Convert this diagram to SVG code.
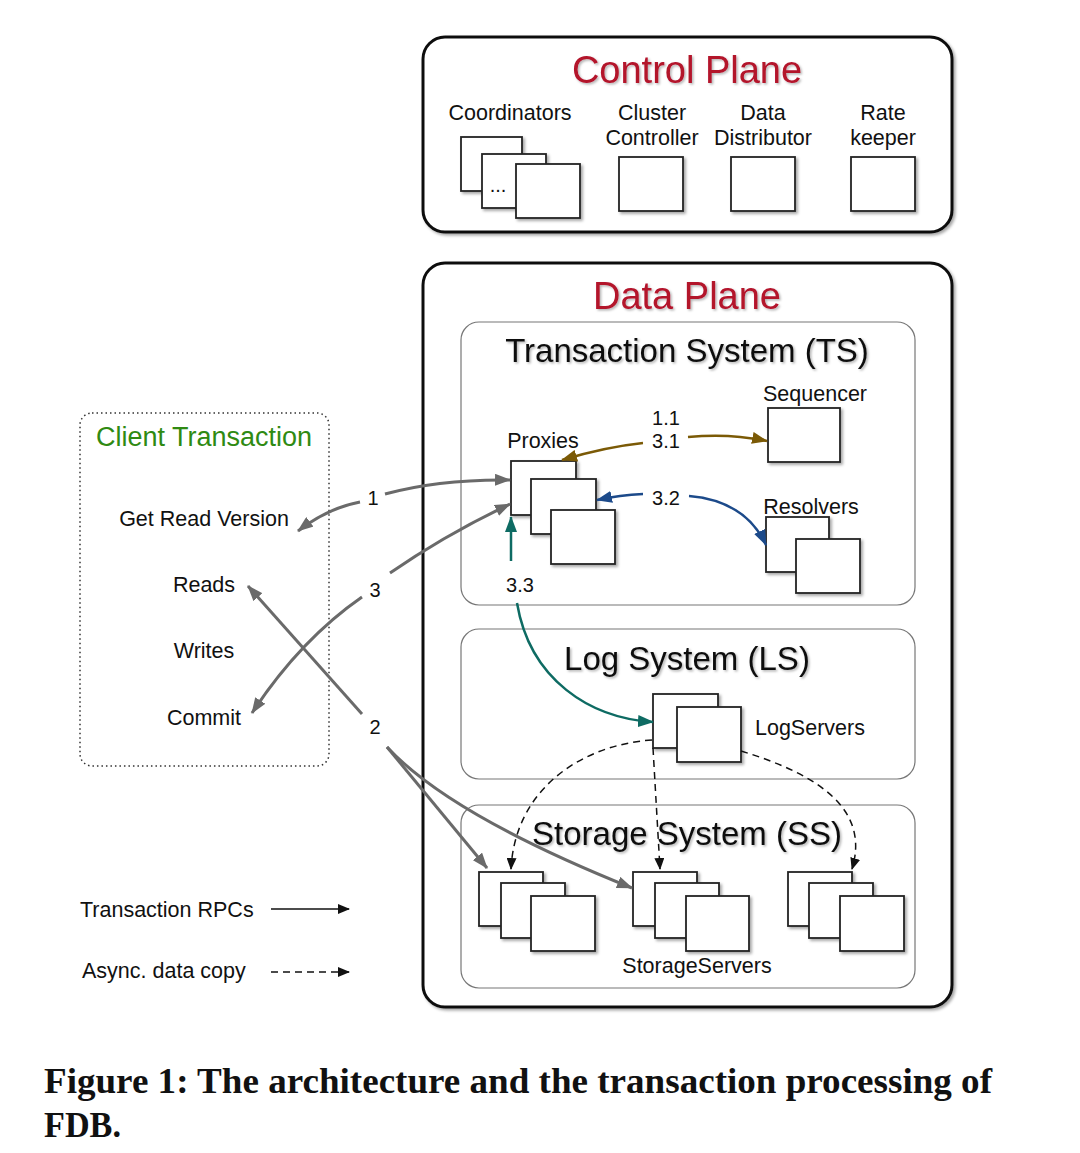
<svg xmlns="http://www.w3.org/2000/svg" width="1080" height="1153" viewBox="0 0 1080 1153">
<style>
.lbl{font-family:"Liberation Sans",Arial,sans-serif;font-size:21.5px;fill:#111;}
.num{font-family:"Liberation Sans",Arial,sans-serif;font-size:20px;fill:#111;}
.red{font-family:"Liberation Sans",Arial,sans-serif;font-size:38px;fill:#b3122b;}
.sys{font-family:"Liberation Sans",Arial,sans-serif;font-size:33px;fill:#111;}
.box{fill:#fff;stroke:#222;stroke-width:1.8;}
.plane{fill:#fff;stroke:#111;stroke-width:3;}
.sub{fill:#fff;stroke:#777;stroke-width:1.2;}
.gray{fill:none;stroke:#6a6a6a;stroke-width:3;}
.dash{fill:none;stroke:#111;stroke-width:1.5;stroke-dasharray:7 5;}
.cap{font-family:"Liberation Serif","Times New Roman",serif;font-weight:bold;font-size:35px;fill:#111;}
</style>
<defs>
<filter id="sh" x="-10%" y="-10%" width="130%" height="130%">
<feDropShadow dx="2" dy="2" stdDeviation="1.5" flood-color="#000" flood-opacity="0.35"/>
</filter>
<filter id="tsh" x="-5%" y="-20%" width="110%" height="150%">
<feDropShadow dx="1.5" dy="1.5" stdDeviation="1.2" flood-color="#000" flood-opacity="0.3"/>
</filter>
<marker id="ag" viewBox="0 0 16 12" refX="15" refY="6" markerWidth="16" markerHeight="12" markerUnits="userSpaceOnUse" orient="auto"><path d="M0,0 L16,6 L0,12 z" fill="#6a6a6a"/></marker>
<marker id="ab" viewBox="0 0 16 12" refX="15" refY="6" markerWidth="16" markerHeight="12" markerUnits="userSpaceOnUse" orient="auto"><path d="M0,0 L16,6 L0,12 z" fill="#7b5a06"/></marker>
<marker id="an" viewBox="0 0 16 12" refX="15" refY="6" markerWidth="16" markerHeight="12" markerUnits="userSpaceOnUse" orient="auto"><path d="M0,0 L16,6 L0,12 z" fill="#1c4a8a"/></marker>
<marker id="at" viewBox="0 0 16 12" refX="15" refY="6" markerWidth="16" markerHeight="12" markerUnits="userSpaceOnUse" orient="auto"><path d="M0,0 L16,6 L0,12 z" fill="#0e6b63"/></marker>
<marker id="ak" viewBox="0 0 12 10" refX="11" refY="5" markerWidth="12" markerHeight="10" markerUnits="userSpaceOnUse" orient="auto"><path d="M0,0 L12,5 L0,10 z" fill="#111"/></marker>
</defs>
<rect width="1080" height="1153" fill="#fff"/>

<g id="control-plane">
<rect class="plane" x="423" y="37" width="529" height="195" rx="22" filter="url(#sh)"/>
<text class="red" x="687" y="83" text-anchor="middle" filter="url(#tsh)">Control Plane</text>
</g>
<g id="coordinators">
<text class="lbl" x="510" y="120" text-anchor="middle">Coordinators</text>
<rect class="box" x="461" y="137" width="61" height="54" filter="url(#sh)"/>
<rect class="box" x="482" y="154" width="64" height="54" filter="url(#sh)"/>
<text class="num" x="498" y="192" text-anchor="middle" font-size="16">...</text>
<rect class="box" x="516" y="164" width="64" height="54" filter="url(#sh)"/>
</g>
<g id="cluster-controller">
<text class="lbl" x="652" y="120" text-anchor="middle">Cluster</text>
<text class="lbl" x="652" y="145" text-anchor="middle">Controller</text>
<rect class="box" x="619" y="157" width="64" height="54" filter="url(#sh)"/>
</g>
<g id="data-distributor">
<text class="lbl" x="763" y="120" text-anchor="middle">Data</text>
<text class="lbl" x="763" y="145" text-anchor="middle">Distributor</text>
<rect class="box" x="731" y="157" width="64" height="54" filter="url(#sh)"/>
</g>
<g id="ratekeeper">
<text class="lbl" x="883" y="120" text-anchor="middle">Rate</text>
<text class="lbl" x="883" y="145" text-anchor="middle">keeper</text>
<rect class="box" x="851" y="157" width="64" height="54" filter="url(#sh)"/>
</g>

<g id="data-plane">
<rect class="plane" x="423" y="263" width="529" height="744" rx="22" filter="url(#sh)"/>
<text class="red" x="687" y="309" text-anchor="middle" filter="url(#tsh)">Data Plane</text>
</g>
<g id="transaction-system">
<rect class="sub" x="461" y="322" width="454" height="283" rx="18"/>
<text class="sys" x="687" y="362" text-anchor="middle" filter="url(#tsh)">Transaction System (TS)</text>
</g>
<g id="log-system">
<rect class="sub" x="461" y="629" width="454" height="150" rx="18"/>
<text class="sys" x="687" y="670" text-anchor="middle" filter="url(#tsh)">Log System (LS)</text>
</g>
<g id="storage-system">
<rect class="sub" x="461" y="805" width="454" height="183" rx="18"/>
<text class="sys" x="687" y="845" text-anchor="middle" filter="url(#tsh)">Storage System (SS)</text>
</g>

<g id="sequencer">
<text class="lbl" x="815" y="401" text-anchor="middle">Sequencer</text>
<rect class="box" x="768" y="408" width="72" height="54" filter="url(#sh)"/>
</g>
<g id="proxies">
<text class="lbl" x="543" y="448" text-anchor="middle">Proxies</text>
<rect class="box" x="511" y="461" width="65" height="54" filter="url(#sh)"/>
<rect class="box" x="531" y="479" width="65" height="55" filter="url(#sh)"/>
<rect class="box" x="551" y="510" width="64" height="54" filter="url(#sh)"/>
</g>
<g id="resolvers">
<text class="lbl" x="811" y="514" text-anchor="middle">Resolvers</text>
<rect class="box" x="766" y="517" width="63" height="55" filter="url(#sh)"/>
<rect class="box" x="796" y="539" width="64" height="54" filter="url(#sh)"/>
</g>
<g id="logservers">
<rect class="box" x="653" y="694" width="65" height="54" filter="url(#sh)"/>
<rect class="box" x="677" y="707" width="64" height="55" filter="url(#sh)"/>
<text class="lbl" x="755" y="735">LogServers</text>
</g>
<g id="storageservers-1">
<rect class="box" x="479" y="872" width="64" height="54" filter="url(#sh)"/>
<rect class="box" x="501" y="883" width="64" height="55" filter="url(#sh)"/>
<rect class="box" x="531" y="896" width="64" height="55" filter="url(#sh)"/>
</g>
<g id="storageservers-2">
<rect class="box" x="633" y="872" width="64" height="54" filter="url(#sh)"/>
<rect class="box" x="655" y="883" width="64" height="55" filter="url(#sh)"/>
<rect class="box" x="686" y="896" width="63" height="55" filter="url(#sh)"/>
<text class="lbl" x="697" y="973" text-anchor="middle">StorageServers</text>
</g>
<g id="storageservers-3">
<rect class="box" x="788" y="872" width="64" height="54" filter="url(#sh)"/>
<rect class="box" x="809" y="883" width="64" height="55" filter="url(#sh)"/>
<rect class="box" x="840" y="896" width="64" height="55" filter="url(#sh)"/>
</g>

<g id="client-transaction">
<rect x="80" y="413" width="249" height="353" rx="12" fill="none" stroke="#333" stroke-width="1.5" stroke-dasharray="1.5 3"/>
<text x="204" y="446" text-anchor="middle" font-family="Liberation Sans, Arial, sans-serif" font-size="27" fill="#2f8a12">Client Transaction</text>
<text class="lbl" x="204" y="526" text-anchor="middle">Get Read Version</text>
<text class="lbl" x="204" y="592" text-anchor="middle">Reads</text>
<text class="lbl" x="204" y="658" text-anchor="middle">Writes</text>
<text class="lbl" x="204" y="725" text-anchor="middle">Commit</text>
</g>

<g id="connectors">
<path class="gray" d="M385,494 Q440,479 510,480" marker-end="url(#ag)"/>
<path class="gray" d="M360,502 Q328,508 298,531" marker-end="url(#ag)"/>
<text class="num" x="373" y="505" text-anchor="middle">1</text>
<path class="gray" d="M390,573 Q445,535 510,504" marker-end="url(#ag)"/>
<path class="gray" d="M362,597 Q300,640 252,713" marker-end="url(#ag)"/>
<text class="num" x="375" y="597" text-anchor="middle">3</text>
<path class="gray" d="M362,714 L248,586" marker-end="url(#ag)"/>
<path class="gray" d="M387,747 L487,868" marker-end="url(#ag)"/>
<path class="gray" d="M387,747 Q450,815 632,888" marker-end="url(#ag)"/>
<text class="num" x="375" y="734" text-anchor="middle">2</text>

<path d="M643,443 Q605,447 562,460" fill="none" stroke="#7b5a06" stroke-width="2.5" marker-end="url(#ab)"/>
<path d="M688,437 Q730,433 767,441" fill="none" stroke="#7b5a06" stroke-width="2.5" marker-end="url(#ab)"/>
<text class="num" x="666" y="425" text-anchor="middle">1.1</text>
<text class="num" x="666" y="448" text-anchor="middle">3.1</text>

<path d="M643,494 Q620,495 597,500" fill="none" stroke="#1c4a8a" stroke-width="2.5" marker-end="url(#an)"/>
<path d="M689,496 C725,499 752,515 766,545" fill="none" stroke="#1c4a8a" stroke-width="2.5" marker-end="url(#an)"/>
<text class="num" x="666" y="505" text-anchor="middle">3.2</text>

<path d="M511,561 L511,517" fill="none" stroke="#0e6b63" stroke-width="2.5" marker-end="url(#at)"/>
<path d="M517,603 C530,680 590,718 653,722" fill="none" stroke="#0e6b63" stroke-width="2.5" marker-end="url(#at)"/>
<text class="num" x="520" y="592" text-anchor="middle">3.3</text>

<path class="dash" d="M652,740 C580,745 515,790 511,869" marker-end="url(#ak)"/>
<path class="dash" d="M653,748 L660,869" marker-end="url(#ak)"/>
<path class="dash" d="M741,751 C820,775 870,810 852,869" marker-end="url(#ak)"/>
</g>

<g id="legend">
<text class="lbl" x="80" y="917">Transaction RPCs</text>
<path d="M271,909 L349,909" fill="none" stroke="#111" stroke-width="1.5" marker-end="url(#ak)"/>
<text class="lbl" x="82" y="978">Async. data copy</text>
<path d="M271,972 L349,972" fill="none" stroke="#111" stroke-width="1.5" stroke-dasharray="7 5" marker-end="url(#ak)"/>
</g>

<g id="caption">
<text class="cap" x="44" y="1093" textLength="948" lengthAdjust="spacingAndGlyphs">Figure 1: The architecture and the transaction processing of</text>
<text class="cap" x="44" y="1137" textLength="77" lengthAdjust="spacingAndGlyphs">FDB.</text>
</g>
</svg>
